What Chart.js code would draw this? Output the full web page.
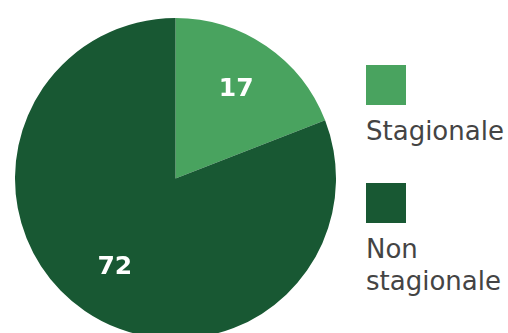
<!DOCTYPE html>
<html>
<head>
<meta charset="utf-8">
<script src="https://cdn.jsdelivr.net/npm/chart.js@4"></script>
<style>
    html, body { margin: 0; padding: 0; background: #fff; overflow: hidden; width: 508px; height: 333px; }
    #wrap { position: absolute; left: 15px; top: 18px; width: 321px; height: 321px; }
    #legend { position: absolute; left: 366px; top: 65px; font-family: "DejaVu Sans", sans-serif; color: #444; }
    .box { width: 40px; height: 40px; }
    .lbl { font-size: 26px; line-height: 32px; margin-top: 10px; white-space: nowrap; }
</style>
</head>
<body>
<div id="wrap"><canvas id="pieChart"></canvas></div>
<div id="legend"></div>
<script>
    const categories = ['Stagionale', 'Non stagionale'];
    const legendLines = [['Stagionale'], ['Non', 'stagionale']];
    const values = [17, 72];
    const colors = ['#49a35f', '#185833'];

    // legend on the right, one square plus label per slice
    const $legend = document.getElementById('legend');
    const tops = [0, 118];
    categories.forEach((cat, i) => {
        const item = document.createElement('div');
        item.style.position = 'absolute';
        item.style.top = tops[i] + 'px';
        item.style.left = '0px';
        item.innerHTML = '<div class="box" style="background:' + colors[i] + '"></div>' +
            '<div class="lbl">' + legendLines[i].join('<br>') + '</div>';
        $legend.appendChild(item);
    });

    // white value numbers inside each slice
    const sliceLabels = {
        id: 'sliceLabels',
        afterDatasetsDraw(chart) {
            const ctx = chart.ctx;
            const meta = chart.getDatasetMeta(0);
            ctx.save();
            ctx.fillStyle = '#fff';
            ctx.font = 'bold 25px "DejaVu Sans", sans-serif';
            ctx.textAlign = 'center';
            ctx.textBaseline = 'middle';
            meta.data.forEach((arc, i) => {
                const p = arc.getProps(['x', 'y', 'startAngle', 'endAngle', 'outerRadius'], true);
                const mid = (p.startAngle + p.endAngle) / 2;
                const r = p.outerRadius * 0.67;
                ctx.fillText(values[i], p.x + Math.cos(mid) * r, p.y + Math.sin(mid) * r);
            });
            ctx.restore();
        }
    };

    new Chart(document.getElementById('pieChart'), {
        type: 'pie',
        data: {
            labels: categories,
            datasets: [{
                data: values,
                backgroundColor: colors,
                borderWidth: 0
            }]
        },
        options: {
            responsive: true,
            maintainAspectRatio: false,
            animation: false,
            layout: { padding: 0 },
            plugins: {
                legend: { display: false },
                tooltip: { enabled: false }
            }
        },
        plugins: [sliceLabels]
    });
</script>
</body>
</html>
